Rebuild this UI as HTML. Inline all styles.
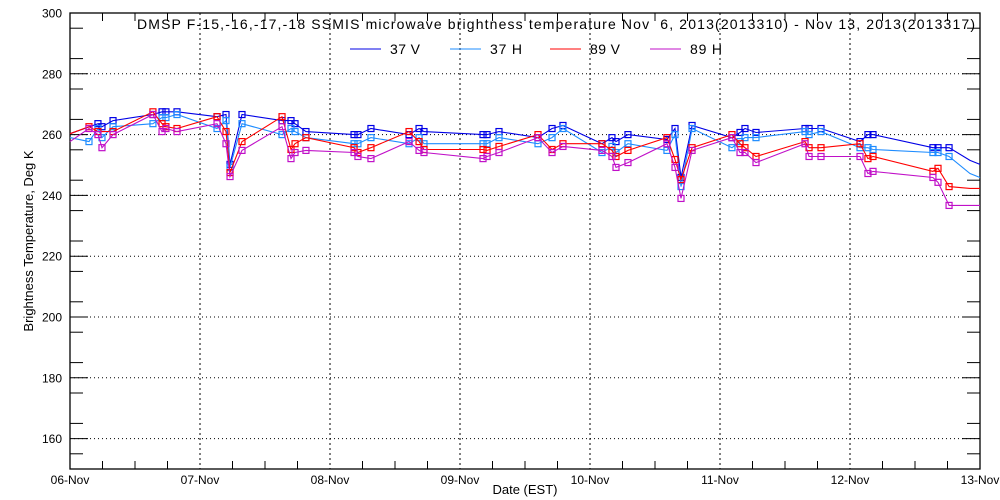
<!DOCTYPE html>
<html><head><meta charset="utf-8"><style>
body{margin:0;background:#fff}
svg{display:block;font-family:"Liberation Sans",sans-serif}
</style></head><body>
<svg id="chart" width="1000" height="500">
<rect width="1000" height="500" fill="#fff"/>
<g id="grid"></g>
<g id="axes"></g>
<g id="series"></g>
<text x="137" y="29" font-size="14" textLength="838" lengthAdjust="spacing">DMSP F-15,-16,-17,-18 SSMIS microwave brightness temperature Nov&#160; 6, 2013(2013310) - Nov 13, 2013(2013317)</text>
<g font-size="14">
<g><line x1="350" y1="49" x2="381" y2="49" stroke="#0000e6"/><text x="390" y="54" textLength="30">37 V</text></g>
<g><line x1="450" y1="49" x2="481" y2="49" stroke="#1e8cff"/><text x="490" y="54" textLength="32">37 H</text></g>
<g><line x1="550" y1="49" x2="581" y2="49" stroke="#ff0000"/><text x="590" y="54" textLength="30">89 V</text></g>
<g><line x1="650" y1="49" x2="681" y2="49" stroke="#c010c8"/><text x="690" y="54" textLength="32">89 H</text></g>
</g>
<text x="525" y="494" font-size="13" text-anchor="middle">Date (EST)</text>
<text transform="translate(33,241) rotate(-90)" font-size="13" text-anchor="middle">Brightness Temperature, Deg K</text>
</svg>
<script>
const dayLabels=["06-Nov","07-Nov","08-Nov","09-Nov","10-Nov","11-Nov","12-Nov","13-Nov"];
const yTicks=[160,180,200,220,240,260,280,300];
const times=[0,0.146,0.215,0.246,0.331,0.638,0.708,0.738,0.823,1.131,1.2,1.231,1.323,1.631,1.7,1.731,1.815,2.185,2.215,2.315,2.608,2.685,2.723,3.177,3.208,3.3,3.6,3.708,3.792,4.092,4.169,4.2,4.292,4.592,4.654,4.7,4.785,5.092,5.154,5.192,5.277,5.654,5.685,5.777,6.077,6.138,6.177,6.638,6.677,6.762,6.923,7];
const v37V=[260.3,null,263.6,262.6,264.6,266.6,267.5,267.5,267.5,265.9,266.6,250.2,266.6,264.6,264.6,263.6,261,260,260,262,260,262,261,260,260,261,259,262,263,257,259,257.7,260,258.4,262,245.9,263,259,260.7,262,260.7,262,262,262,257.7,260,260,255.7,255.7,255.7,251.5,250.2];
const v37H=[259,257.7,262,259,262.6,263.6,265.6,265.6,266.6,262,264.6,249.2,263.6,260,262,261,259,257,257,259,257,259,257,257,257,259,257,259,262,254.1,256.1,254.1,257,254.8,260,242.9,262,255.7,257.7,259,259,261,260,261,255.7,255.7,255.1,254.1,254.1,252.8,247.2,245.9];
const v89V=[260.3,262.6,261,null,261,267.5,263.6,262.6,262,265.9,261,247.5,257.7,265.9,255.1,257,259,255.7,254.1,255.7,261,257.7,255.1,255.1,254.8,256.1,260,255.1,257,257,254.8,252.8,254.8,259,251.8,245.2,255.7,260,257,255.7,252.8,257.7,255.7,255.7,257,252.1,252.8,247.9,248.9,242.9,242.3,242.3];
const v89H=[257.7,262,260,255.7,260,266.6,261,262,261,263.6,257,246.2,254.8,262.6,252.1,254.1,254.8,254.1,252.8,252.1,257.7,254.8,254.1,252.1,252.8,254.1,259,254.1,256.1,254.8,252.8,249.2,250.8,257,249.2,239,254.8,259,254.1,254.1,250.8,257,252.8,252.8,252.8,247.2,247.9,245.9,244.3,236.7,236.7,236.7];
const seriesNames=["37v","37h","89v","89h"];
const seriesColors=["#0000e6","#1e8cff","#ff0000","#c010c8"];
const seriesVals=[v37V,v37H,v89V,v89H];

const L=70,R=980,T=13,B=469,YMIN=150,YMAX=300,DAYS=7;
const NS="http://www.w3.org/2000/svg";
const xs=t=>L+(t/DAYS)*(R-L);
const ys=v=>B-(v-YMIN)/(YMAX-YMIN)*(B-T);
function mk(tag,attrs,parent){const e=document.createElementNS(NS,tag);for(const k in attrs)e.setAttribute(k,attrs[k]);parent.appendChild(e);return e;}
const grid=document.getElementById('grid'),axes=document.getElementById('axes'),ser=document.getElementById('series');
yTicks.forEach(v=>{
  const y=ys(v);
  if(v<YMAX){const g=mk('line',{x1:L,x2:R,y1:y,y2:y,stroke:'#000','stroke-dasharray':'1,3'},grid);
  
  }
  mk('line',{x1:L,x2:L+18,y1:y,y2:y,stroke:'#000'},axes);
  mk('line',{x1:R,x2:R-18,y1:y,y2:y,stroke:'#000'},axes);
  const t=mk('text',{x:L-8,y:y+4.5,'font-size':12,'text-anchor':'end'},axes);
  t.textContent=v;
  
  
});
for(let v=YMIN+5;v<YMAX;v+=10){const y=ys(v);
  mk('line',{x1:L,x2:L+13,y1:y,y2:y,stroke:'#000'},axes);
  mk('line',{x1:R,x2:R-13,y1:y,y2:y,stroke:'#000'},axes);}
dayLabels.forEach((lab,i)=>{
  const x=xs(i);
  if(i>0&&i<DAYS){const g=mk('line',{x1:x,x2:x,y1:T,y2:B,stroke:'#000','stroke-dasharray':'2,3'},grid);
  
  }
  const t=mk('text',{x:x,y:B+15,'font-size':12,'text-anchor':'middle'},axes);
  t.textContent=lab;
  
  
});
for(let q=1;q<DAYS*4;q++){if(q%4===0)continue;const x=xs(q/4);
  mk('line',{x1:x,x2:x,y1:B,y2:B-8,stroke:'#000'},axes);
  mk('line',{x1:x,x2:x,y1:T,y2:T+8,stroke:'#000'},axes);}
mk('rect',{x:L,y:T,width:R-L,height:B-T,fill:'none',stroke:'#000','stroke-width':1.3},axes);
seriesVals.forEach((vals,si)=>{
  const g=mk('g',{},ser);
  
  
  const pts=[];
  times.forEach((t,i)=>{if(vals[i]!=null)pts.push([xs(t),ys(vals[i]),t]);});
  const pl=mk('polyline',{points:pts.map(p=>p[0].toFixed(1)+','+p[1].toFixed(1)).join(' '),fill:'none',stroke:seriesColors[si],'stroke-width':1.1},g);
  
  
  pts.forEach(p=>{if(p[2]<=0||p[2]>=6.9)return;
    const m=mk('rect',{x:p[0]-3,y:p[1]-3,width:6,height:6,fill:'none',stroke:seriesColors[si],'stroke-width':1.2},g);
    
    });
});
</script>
</body></html>
